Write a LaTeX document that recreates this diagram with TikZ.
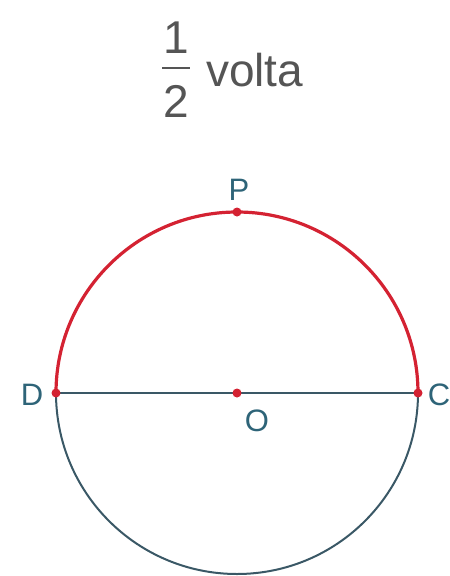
\documentclass[tikz,border=0pt]{standalone}
\usepackage{fontspec}
\setmainfont{Liberation Sans}
\begin{document}
\begin{tikzpicture}[x=1pt,y=-1pt,
  lbl/.style={text=labelc,font=\fontsize{31}{33}\selectfont,inner sep=0pt},
  ttl/.style={text=titlec,font=\fontsize{46}{50}\selectfont,inner sep=0pt},
  dotr/.style={circle,fill=redc,inner sep=0pt,minimum size=9pt}]
\definecolor{labelc}{HTML}{2E6478}
\definecolor{titlec}{HTML}{555555}
\definecolor{redc}{HTML}{D42232}
\definecolor{circc}{HTML}{3A5866}
\useasboundingbox (0,0) rectangle (450,576);
\coordinate (O) at (237,393);
\coordinate (D) at (56,393);
\coordinate (C) at (418,393);
\coordinate (P) at (237,212);
% title
\node[ttl] (one) at (176,38) {1};
\node[ttl] (two) at (176,101) {2};
\coordinate (b1) at (162,68);
\coordinate (b2) at (190,68);
\draw[titlec,line width=2.2pt] (b1) -- (b2);
\node[ttl,anchor=base west] (volta) at (206,86) {volta};
% circle
\draw[circc,line width=2pt] (D) arc[start angle=180,end angle=0,radius=181];
\draw[circc,line width=1.8pt] (D) -- (C);
\draw[redc,line width=3.2pt] (C) arc[start angle=0,end angle=-180,radius=181];
\node[dotr] (dD) at (D) {};
\node[dotr] (dC) at (C) {};
\node[dotr] (dP) at (P) {};
\node[dotr] (dO) at (O) {};
\node[lbl] (lD) at (32,395) {D};
\node[lbl] (lC) at (439,395) {C};
\node[lbl] (lP) at (239,190) {P};
\node[lbl] (lO) at (257,421) {O};
\end{tikzpicture}
\end{document}
